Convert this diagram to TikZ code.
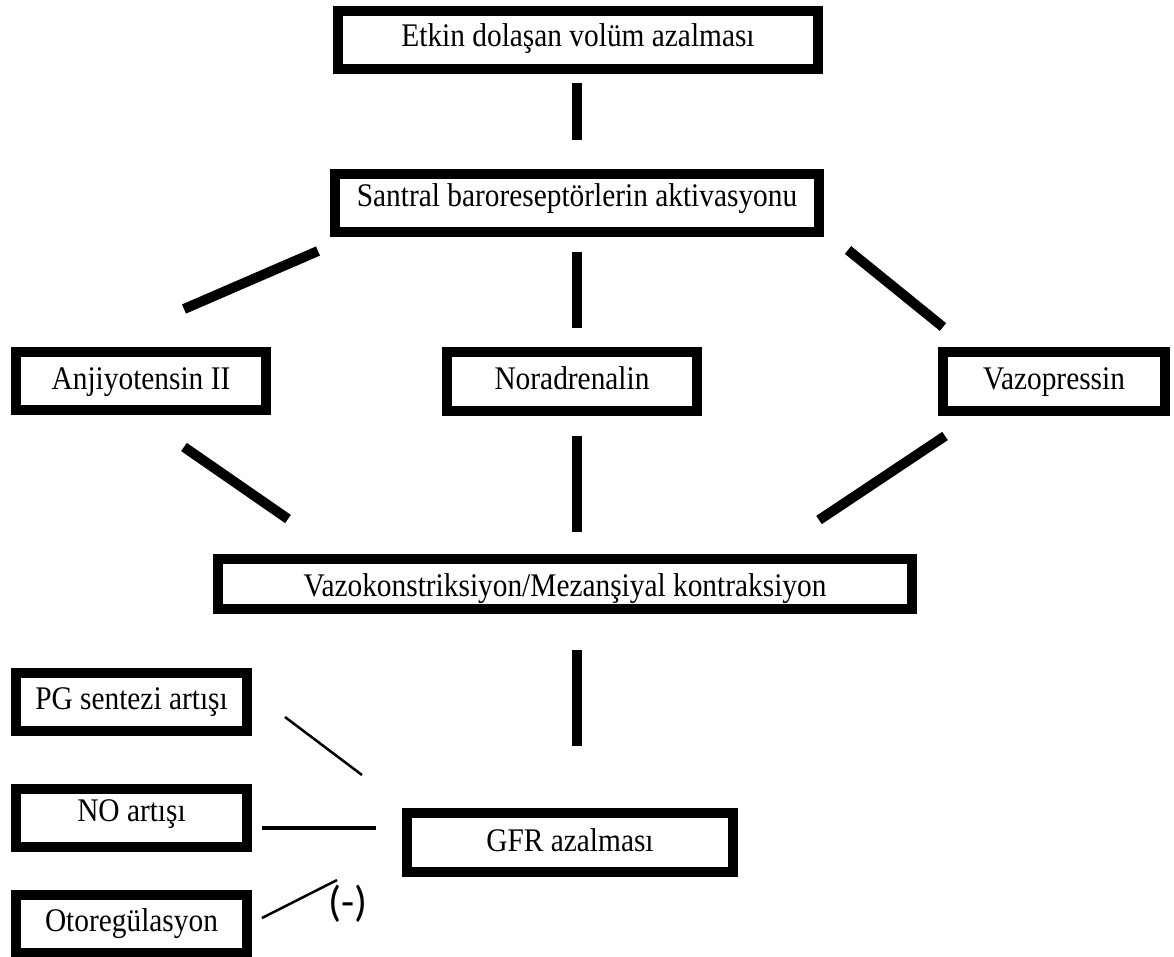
\documentclass[tikz,border=0pt]{standalone}
\usepackage{fontspec}
\setmainfont{Liberation Serif}[FakeStretch=0.89]
\newfontfamily\calib{Carlito}
\begin{document}
\begin{tikzpicture}[x=1pt,y=-1pt,
  bx/.style={draw=black, line width=10pt, fill=white, inner sep=0pt,
    font=\fontsize{33}{36}\selectfont, text height=28pt},
  thick line/.style={line width=10pt},
  thin line/.style={line width=2.5pt}]
\useasboundingbox (0,0) rectangle (1174,956);
% boxes (outer size minus 10 for line width)
\node[bx, minimum width=480pt, minimum height=58pt, text depth=16pt] (etkin) at (578,40) {Etkin dolaşan volüm azalması};
\node[bx, minimum width=484pt, minimum height=58pt, text depth=22pt] (santral) at (577,203) {Santral baroreseptörlerin aktivasyonu};
\node[bx, minimum width=250pt, minimum height=58pt, text depth=12pt] (anj) at (141,381) {Anjiyotensin II};
\node[bx, minimum width=250pt, minimum height=59pt, text depth=13pt] (nor) at (572,381.5) {Noradrenalin};
\node[bx, minimum width=222pt, minimum height=59pt, text depth=13pt] (vaz) at (1054,381.5) {Vazopressin};
\node[bx, minimum width=694pt, minimum height=50pt, text depth=3pt] (vazo) at (565,584) {Vazokonstriksiyon/Mezanşiyal kontraksiyon};
\node[bx, minimum width=231pt, minimum height=58pt, text depth=14pt] (pg) at (131.5,702) {PG sentezi artışı};
\node[bx, minimum width=231pt, minimum height=58pt, text depth=22pt] (no) at (131.5,818) {NO artışı};
\node[bx, minimum width=231pt, minimum height=58pt, text depth=14pt] (oto) at (131.5,924) {Otoregülasyon};
\node[bx, minimum width=326pt, minimum height=59pt, text depth=11pt] (gfr) at (570,842.5) {GFR azalması};
% connector end points
\coordinate (c1a) at (577,83);  \coordinate (c1b) at (577,140);
\coordinate (c2a) at (318,251); \coordinate (c2b) at (184,309);
\coordinate (c3a) at (577,252); \coordinate (c3b) at (577,328);
\coordinate (c4a) at (848,250); \coordinate (c4b) at (943,327);
\coordinate (c5a) at (184,447); \coordinate (c5b) at (288,519);
\coordinate (c6a) at (577,436); \coordinate (c6b) at (577,532);
\coordinate (c7a) at (945,436); \coordinate (c7b) at (819,520);
\coordinate (c8a) at (577,650); \coordinate (c8b) at (577,746);
\coordinate (t1a) at (285,717); \coordinate (t1b) at (362,775);
\coordinate (t2a) at (262,828); \coordinate (t2b) at (376,828);
\coordinate (t3a) at (262,918); \coordinate (t3b) at (337,880);
% thick connectors
\draw[thick line] (c1a) -- (c1b);
\draw[thick line] (c2a) -- (c2b);
\draw[thick line] (c3a) -- (c3b);
\draw[thick line] (c4a) -- (c4b);
\draw[thick line] (c5a) -- (c5b);
\draw[thick line] (c6a) -- (c6b);
\draw[thick line] (c7a) -- (c7b);
\draw[thick line] (c8a) -- (c8b);
% thin connectors
\draw[thin line] (t1a) -- (t1b);
\draw[line width=4pt] (t2a) -- (t2b);
\draw[thin line] (t3a) -- (t3b);
\node[font=\calib\fontsize{43}{46}\selectfont, inner sep=0pt] (minus) at (348,904) {(-)};
\end{tikzpicture}
\end{document}
